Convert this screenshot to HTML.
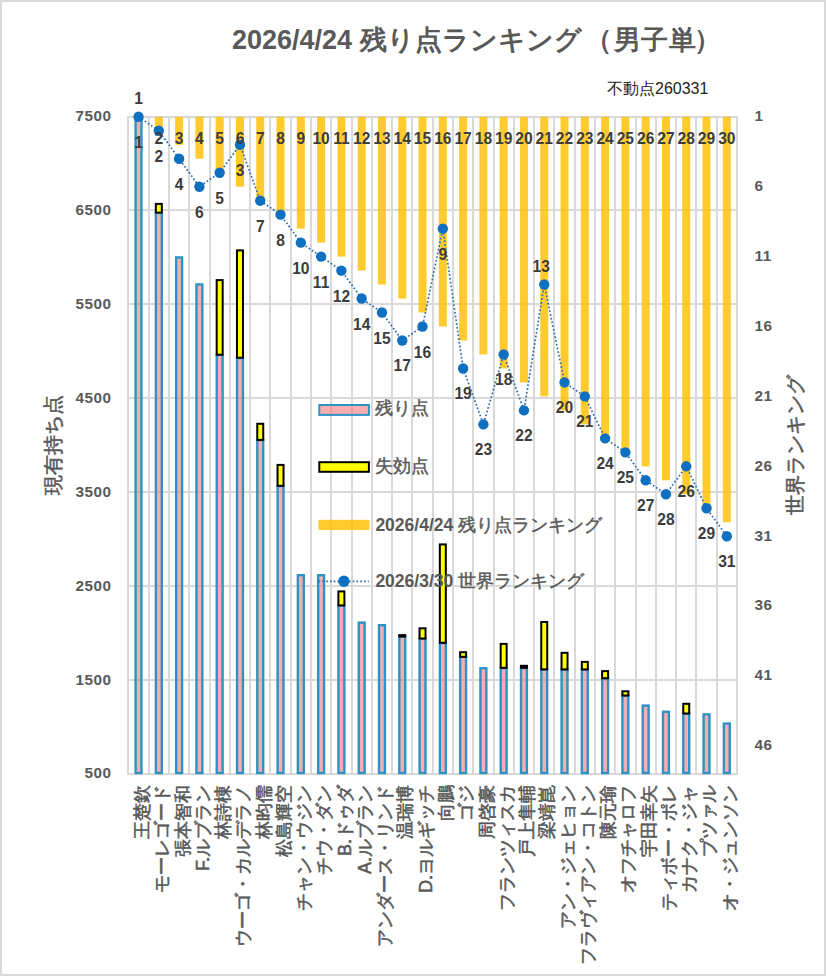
<!DOCTYPE html>
<html><head><meta charset="utf-8"><style>
html,body{margin:0;padding:0;background:#fff;width:826px;height:976px;overflow:hidden}
svg{display:block}
</style></head><body>
<svg width="826" height="976" viewBox="0 0 826 976">
<rect x="1" y="1" width="824" height="974" fill="#fff" stroke="#d9d9d9" stroke-width="2"/>
<line x1="127" y1="117" x2="738" y2="117" stroke="#d9d9d9" stroke-width="2"/>
<line x1="127" y1="210" x2="738" y2="210" stroke="#d9d9d9" stroke-width="2"/>
<line x1="127" y1="304" x2="738" y2="304" stroke="#d9d9d9" stroke-width="2"/>
<line x1="127" y1="398" x2="738" y2="398" stroke="#d9d9d9" stroke-width="2"/>
<line x1="127" y1="492" x2="738" y2="492" stroke="#d9d9d9" stroke-width="2"/>
<line x1="127" y1="586" x2="738" y2="586" stroke="#d9d9d9" stroke-width="2"/>
<line x1="127" y1="680" x2="738" y2="680" stroke="#d9d9d9" stroke-width="2"/>
<line x1="127" y1="774" x2="738" y2="774" stroke="#d9d9d9" stroke-width="2"/>
<line x1="128" y1="116" x2="128" y2="775" stroke="#d9d9d9" stroke-width="2"/>
<line x1="149" y1="116" x2="149" y2="775" stroke="#d9d9d9" stroke-width="2"/>
<line x1="169" y1="116" x2="169" y2="775" stroke="#d9d9d9" stroke-width="2"/>
<line x1="189" y1="116" x2="189" y2="775" stroke="#d9d9d9" stroke-width="2"/>
<line x1="210" y1="116" x2="210" y2="775" stroke="#d9d9d9" stroke-width="2"/>
<line x1="230" y1="116" x2="230" y2="775" stroke="#d9d9d9" stroke-width="2"/>
<line x1="250" y1="116" x2="250" y2="775" stroke="#d9d9d9" stroke-width="2"/>
<line x1="270" y1="116" x2="270" y2="775" stroke="#d9d9d9" stroke-width="2"/>
<line x1="291" y1="116" x2="291" y2="775" stroke="#d9d9d9" stroke-width="2"/>
<line x1="311" y1="116" x2="311" y2="775" stroke="#d9d9d9" stroke-width="2"/>
<line x1="331" y1="116" x2="331" y2="775" stroke="#d9d9d9" stroke-width="2"/>
<line x1="352" y1="116" x2="352" y2="775" stroke="#d9d9d9" stroke-width="2"/>
<line x1="372" y1="116" x2="372" y2="775" stroke="#d9d9d9" stroke-width="2"/>
<line x1="392" y1="116" x2="392" y2="775" stroke="#d9d9d9" stroke-width="2"/>
<line x1="412" y1="116" x2="412" y2="775" stroke="#d9d9d9" stroke-width="2"/>
<line x1="433" y1="116" x2="433" y2="775" stroke="#d9d9d9" stroke-width="2"/>
<line x1="453" y1="116" x2="453" y2="775" stroke="#d9d9d9" stroke-width="2"/>
<line x1="473" y1="116" x2="473" y2="775" stroke="#d9d9d9" stroke-width="2"/>
<line x1="494" y1="116" x2="494" y2="775" stroke="#d9d9d9" stroke-width="2"/>
<line x1="514" y1="116" x2="514" y2="775" stroke="#d9d9d9" stroke-width="2"/>
<line x1="534" y1="116" x2="534" y2="775" stroke="#d9d9d9" stroke-width="2"/>
<line x1="554" y1="116" x2="554" y2="775" stroke="#d9d9d9" stroke-width="2"/>
<line x1="575" y1="116" x2="575" y2="775" stroke="#d9d9d9" stroke-width="2"/>
<line x1="595" y1="116" x2="595" y2="775" stroke="#d9d9d9" stroke-width="2"/>
<line x1="615" y1="116" x2="615" y2="775" stroke="#d9d9d9" stroke-width="2"/>
<line x1="636" y1="116" x2="636" y2="775" stroke="#d9d9d9" stroke-width="2"/>
<line x1="656" y1="116" x2="656" y2="775" stroke="#d9d9d9" stroke-width="2"/>
<line x1="676" y1="116" x2="676" y2="775" stroke="#d9d9d9" stroke-width="2"/>
<line x1="696" y1="116" x2="696" y2="775" stroke="#d9d9d9" stroke-width="2"/>
<line x1="717" y1="116" x2="717" y2="775" stroke="#d9d9d9" stroke-width="2"/>
<line x1="737" y1="116" x2="737" y2="775" stroke="#d9d9d9" stroke-width="2"/>
<rect x="135.59" y="117.40" width="5.9" height="655.60" fill="#f86c74" fill-opacity="0.56" stroke="#2c93c4" stroke-width="2.4"/>
<rect x="155.88" y="212.80" width="5.9" height="560.20" fill="#f86c74" fill-opacity="0.56" stroke="#2c93c4" stroke-width="2.4"/>
<rect x="176.16" y="257.40" width="5.9" height="515.60" fill="#f86c74" fill-opacity="0.56" stroke="#2c93c4" stroke-width="2.4"/>
<rect x="196.45" y="284.40" width="5.9" height="488.60" fill="#f86c74" fill-opacity="0.56" stroke="#2c93c4" stroke-width="2.4"/>
<rect x="216.73" y="354.90" width="5.9" height="418.10" fill="#f86c74" fill-opacity="0.56" stroke="#2c93c4" stroke-width="2.4"/>
<rect x="237.02" y="357.90" width="5.9" height="415.10" fill="#f86c74" fill-opacity="0.56" stroke="#2c93c4" stroke-width="2.4"/>
<rect x="257.30" y="440.10" width="5.9" height="332.90" fill="#f86c74" fill-opacity="0.56" stroke="#2c93c4" stroke-width="2.4"/>
<rect x="277.59" y="486.00" width="5.9" height="287.00" fill="#f86c74" fill-opacity="0.56" stroke="#2c93c4" stroke-width="2.4"/>
<rect x="297.87" y="575.20" width="5.9" height="197.80" fill="#f86c74" fill-opacity="0.56" stroke="#2c93c4" stroke-width="2.4"/>
<rect x="318.16" y="575.20" width="5.9" height="197.80" fill="#f86c74" fill-opacity="0.56" stroke="#2c93c4" stroke-width="2.4"/>
<rect x="338.44" y="605.60" width="5.9" height="167.40" fill="#f86c74" fill-opacity="0.56" stroke="#2c93c4" stroke-width="2.4"/>
<rect x="358.73" y="622.60" width="5.9" height="150.40" fill="#f86c74" fill-opacity="0.56" stroke="#2c93c4" stroke-width="2.4"/>
<rect x="379.01" y="625.20" width="5.9" height="147.80" fill="#f86c74" fill-opacity="0.56" stroke="#2c93c4" stroke-width="2.4"/>
<rect x="399.30" y="636.70" width="5.9" height="136.30" fill="#f86c74" fill-opacity="0.56" stroke="#2c93c4" stroke-width="2.4"/>
<rect x="419.58" y="638.70" width="5.9" height="134.30" fill="#f86c74" fill-opacity="0.56" stroke="#2c93c4" stroke-width="2.4"/>
<rect x="439.87" y="643.00" width="5.9" height="130.00" fill="#f86c74" fill-opacity="0.56" stroke="#2c93c4" stroke-width="2.4"/>
<rect x="460.15" y="657.00" width="5.9" height="116.00" fill="#f86c74" fill-opacity="0.56" stroke="#2c93c4" stroke-width="2.4"/>
<rect x="480.44" y="668.20" width="5.9" height="104.80" fill="#f86c74" fill-opacity="0.56" stroke="#2c93c4" stroke-width="2.4"/>
<rect x="500.72" y="668.00" width="5.9" height="105.00" fill="#f86c74" fill-opacity="0.56" stroke="#2c93c4" stroke-width="2.4"/>
<rect x="521.01" y="668.00" width="5.9" height="105.00" fill="#f86c74" fill-opacity="0.56" stroke="#2c93c4" stroke-width="2.4"/>
<rect x="541.29" y="669.60" width="5.9" height="103.40" fill="#f86c74" fill-opacity="0.56" stroke="#2c93c4" stroke-width="2.4"/>
<rect x="561.58" y="669.60" width="5.9" height="103.40" fill="#f86c74" fill-opacity="0.56" stroke="#2c93c4" stroke-width="2.4"/>
<rect x="581.86" y="669.60" width="5.9" height="103.40" fill="#f86c74" fill-opacity="0.56" stroke="#2c93c4" stroke-width="2.4"/>
<rect x="602.15" y="678.40" width="5.9" height="94.60" fill="#f86c74" fill-opacity="0.56" stroke="#2c93c4" stroke-width="2.4"/>
<rect x="622.43" y="695.70" width="5.9" height="77.30" fill="#f86c74" fill-opacity="0.56" stroke="#2c93c4" stroke-width="2.4"/>
<rect x="642.72" y="705.60" width="5.9" height="67.40" fill="#f86c74" fill-opacity="0.56" stroke="#2c93c4" stroke-width="2.4"/>
<rect x="663.00" y="711.80" width="5.9" height="61.20" fill="#f86c74" fill-opacity="0.56" stroke="#2c93c4" stroke-width="2.4"/>
<rect x="683.29" y="713.70" width="5.9" height="59.30" fill="#f86c74" fill-opacity="0.56" stroke="#2c93c4" stroke-width="2.4"/>
<rect x="703.57" y="714.40" width="5.9" height="58.60" fill="#f86c74" fill-opacity="0.56" stroke="#2c93c4" stroke-width="2.4"/>
<rect x="723.86" y="723.60" width="5.9" height="49.40" fill="#f86c74" fill-opacity="0.56" stroke="#2c93c4" stroke-width="2.4"/>
<rect x="155.83" y="203.90" width="6" height="8.70" fill="#ffff00" stroke="#000" stroke-width="2"/>
<rect x="216.68" y="280.10" width="6" height="74.60" fill="#ffff00" stroke="#000" stroke-width="2"/>
<rect x="236.97" y="250.40" width="6" height="107.30" fill="#ffff00" stroke="#000" stroke-width="2"/>
<rect x="257.25" y="423.80" width="6" height="16.10" fill="#ffff00" stroke="#000" stroke-width="2"/>
<rect x="277.54" y="464.90" width="6" height="20.90" fill="#ffff00" stroke="#000" stroke-width="2"/>
<rect x="338.39" y="591.40" width="6" height="14.00" fill="#ffff00" stroke="#000" stroke-width="2"/>
<rect x="399.25" y="635.10" width="6" height="1.40" fill="#ffff00" stroke="#000" stroke-width="2"/>
<rect x="419.53" y="628.30" width="6" height="10.20" fill="#ffff00" stroke="#000" stroke-width="2"/>
<rect x="439.82" y="544.40" width="6" height="98.40" fill="#ffff00" stroke="#000" stroke-width="2"/>
<rect x="460.10" y="652.20" width="6" height="4.60" fill="#ffff00" stroke="#000" stroke-width="2"/>
<rect x="500.67" y="643.90" width="6" height="23.90" fill="#ffff00" stroke="#000" stroke-width="2"/>
<rect x="520.96" y="665.80" width="6" height="2.00" fill="#ffff00" stroke="#000" stroke-width="2"/>
<rect x="541.24" y="622.00" width="6" height="47.40" fill="#ffff00" stroke="#000" stroke-width="2"/>
<rect x="561.53" y="652.80" width="6" height="16.60" fill="#ffff00" stroke="#000" stroke-width="2"/>
<rect x="581.81" y="661.90" width="6" height="7.50" fill="#ffff00" stroke="#000" stroke-width="2"/>
<rect x="602.10" y="671.10" width="6" height="7.10" fill="#ffff00" stroke="#000" stroke-width="2"/>
<rect x="622.38" y="691.30" width="6" height="4.20" fill="#ffff00" stroke="#000" stroke-width="2"/>
<rect x="683.24" y="703.80" width="6" height="9.70" fill="#ffff00" stroke="#000" stroke-width="2"/>
<rect x="154.83" y="116.80" width="8" height="13.98" fill="#ffc000" fill-opacity="0.82"/>
<rect x="175.11" y="116.80" width="8" height="27.96" fill="#ffc000" fill-opacity="0.82"/>
<rect x="195.40" y="116.80" width="8" height="41.94" fill="#ffc000" fill-opacity="0.82"/>
<rect x="215.68" y="116.80" width="8" height="55.92" fill="#ffc000" fill-opacity="0.82"/>
<rect x="235.97" y="116.80" width="8" height="69.90" fill="#ffc000" fill-opacity="0.82"/>
<rect x="256.25" y="116.80" width="8" height="83.89" fill="#ffc000" fill-opacity="0.82"/>
<rect x="276.54" y="116.80" width="8" height="97.87" fill="#ffc000" fill-opacity="0.82"/>
<rect x="296.82" y="116.80" width="8" height="111.85" fill="#ffc000" fill-opacity="0.82"/>
<rect x="317.11" y="116.80" width="8" height="125.83" fill="#ffc000" fill-opacity="0.82"/>
<rect x="337.39" y="116.80" width="8" height="139.81" fill="#ffc000" fill-opacity="0.82"/>
<rect x="357.68" y="116.80" width="8" height="153.79" fill="#ffc000" fill-opacity="0.82"/>
<rect x="377.96" y="116.80" width="8" height="167.77" fill="#ffc000" fill-opacity="0.82"/>
<rect x="398.25" y="116.80" width="8" height="181.75" fill="#ffc000" fill-opacity="0.82"/>
<rect x="418.53" y="116.80" width="8" height="195.73" fill="#ffc000" fill-opacity="0.82"/>
<rect x="438.82" y="116.80" width="8" height="209.71" fill="#ffc000" fill-opacity="0.82"/>
<rect x="459.10" y="116.80" width="8" height="223.69" fill="#ffc000" fill-opacity="0.82"/>
<rect x="479.39" y="116.80" width="8" height="237.67" fill="#ffc000" fill-opacity="0.82"/>
<rect x="499.67" y="116.80" width="8" height="251.66" fill="#ffc000" fill-opacity="0.82"/>
<rect x="519.96" y="116.80" width="8" height="265.64" fill="#ffc000" fill-opacity="0.82"/>
<rect x="540.24" y="116.80" width="8" height="279.62" fill="#ffc000" fill-opacity="0.82"/>
<rect x="560.53" y="116.80" width="8" height="293.60" fill="#ffc000" fill-opacity="0.82"/>
<rect x="580.81" y="116.80" width="8" height="307.58" fill="#ffc000" fill-opacity="0.82"/>
<rect x="601.10" y="116.80" width="8" height="321.56" fill="#ffc000" fill-opacity="0.82"/>
<rect x="621.38" y="116.80" width="8" height="335.54" fill="#ffc000" fill-opacity="0.82"/>
<rect x="641.67" y="116.80" width="8" height="349.52" fill="#ffc000" fill-opacity="0.82"/>
<rect x="661.95" y="116.80" width="8" height="363.50" fill="#ffc000" fill-opacity="0.82"/>
<rect x="682.24" y="116.80" width="8" height="377.48" fill="#ffc000" fill-opacity="0.82"/>
<rect x="702.52" y="116.80" width="8" height="391.46" fill="#ffc000" fill-opacity="0.82"/>
<rect x="722.81" y="116.80" width="8" height="405.44" fill="#ffc000" fill-opacity="0.82"/>
<polyline points="138.54,116.80 158.83,130.78 179.11,158.74 199.40,186.70 219.68,172.72 239.97,144.76 260.25,200.69 280.54,214.67 300.82,242.63 321.11,256.61 341.39,270.59 361.68,298.55 381.96,312.53 402.25,340.49 422.53,326.51 442.82,228.65 463.10,368.46 483.39,424.38 503.67,354.47 523.96,410.40 544.24,284.57 564.53,382.44 584.81,396.42 605.10,438.36 625.38,452.34 645.67,480.30 665.95,494.28 686.24,466.32 706.52,508.26 726.81,536.23" fill="none" stroke="#2a6db0" stroke-width="1.7" stroke-dasharray="1.7 2.1"/>
<circle cx="138.54" cy="116.80" r="5.2" fill="#0f6fc0"/>
<circle cx="158.83" cy="130.78" r="5.2" fill="#0f6fc0"/>
<circle cx="179.11" cy="158.74" r="5.2" fill="#0f6fc0"/>
<circle cx="199.40" cy="186.70" r="5.2" fill="#0f6fc0"/>
<circle cx="219.68" cy="172.72" r="5.2" fill="#0f6fc0"/>
<circle cx="239.97" cy="144.76" r="5.2" fill="#0f6fc0"/>
<circle cx="260.25" cy="200.69" r="5.2" fill="#0f6fc0"/>
<circle cx="280.54" cy="214.67" r="5.2" fill="#0f6fc0"/>
<circle cx="300.82" cy="242.63" r="5.2" fill="#0f6fc0"/>
<circle cx="321.11" cy="256.61" r="5.2" fill="#0f6fc0"/>
<circle cx="341.39" cy="270.59" r="5.2" fill="#0f6fc0"/>
<circle cx="361.68" cy="298.55" r="5.2" fill="#0f6fc0"/>
<circle cx="381.96" cy="312.53" r="5.2" fill="#0f6fc0"/>
<circle cx="402.25" cy="340.49" r="5.2" fill="#0f6fc0"/>
<circle cx="422.53" cy="326.51" r="5.2" fill="#0f6fc0"/>
<circle cx="442.82" cy="228.65" r="5.2" fill="#0f6fc0"/>
<circle cx="463.10" cy="368.46" r="5.2" fill="#0f6fc0"/>
<circle cx="483.39" cy="424.38" r="5.2" fill="#0f6fc0"/>
<circle cx="503.67" cy="354.47" r="5.2" fill="#0f6fc0"/>
<circle cx="523.96" cy="410.40" r="5.2" fill="#0f6fc0"/>
<circle cx="544.24" cy="284.57" r="5.2" fill="#0f6fc0"/>
<circle cx="564.53" cy="382.44" r="5.2" fill="#0f6fc0"/>
<circle cx="584.81" cy="396.42" r="5.2" fill="#0f6fc0"/>
<circle cx="605.10" cy="438.36" r="5.2" fill="#0f6fc0"/>
<circle cx="625.38" cy="452.34" r="5.2" fill="#0f6fc0"/>
<circle cx="645.67" cy="480.30" r="5.2" fill="#0f6fc0"/>
<circle cx="665.95" cy="494.28" r="5.2" fill="#0f6fc0"/>
<circle cx="686.24" cy="466.32" r="5.2" fill="#0f6fc0"/>
<circle cx="706.52" cy="508.26" r="5.2" fill="#0f6fc0"/>
<circle cx="726.81" cy="536.23" r="5.2" fill="#0f6fc0"/>
<text x="138.54" y="98.50" text-anchor="middle" dominant-baseline="central" style="font-family:'Liberation Sans', sans-serif;font-weight:bold;font-size:15.6px;fill:#3c3c3c">1</text>
<text x="158.83" y="138.80" text-anchor="middle" dominant-baseline="central" style="font-family:'Liberation Sans', sans-serif;font-weight:bold;font-size:15.6px;fill:#3c3c3c">2</text>
<text x="179.11" y="138.80" text-anchor="middle" dominant-baseline="central" style="font-family:'Liberation Sans', sans-serif;font-weight:bold;font-size:15.6px;fill:#3c3c3c">3</text>
<text x="199.40" y="138.80" text-anchor="middle" dominant-baseline="central" style="font-family:'Liberation Sans', sans-serif;font-weight:bold;font-size:15.6px;fill:#3c3c3c">4</text>
<text x="219.68" y="138.80" text-anchor="middle" dominant-baseline="central" style="font-family:'Liberation Sans', sans-serif;font-weight:bold;font-size:15.6px;fill:#3c3c3c">5</text>
<text x="239.97" y="138.80" text-anchor="middle" dominant-baseline="central" style="font-family:'Liberation Sans', sans-serif;font-weight:bold;font-size:15.6px;fill:#3c3c3c">6</text>
<text x="260.25" y="138.80" text-anchor="middle" dominant-baseline="central" style="font-family:'Liberation Sans', sans-serif;font-weight:bold;font-size:15.6px;fill:#3c3c3c">7</text>
<text x="280.54" y="138.80" text-anchor="middle" dominant-baseline="central" style="font-family:'Liberation Sans', sans-serif;font-weight:bold;font-size:15.6px;fill:#3c3c3c">8</text>
<text x="300.82" y="138.80" text-anchor="middle" dominant-baseline="central" style="font-family:'Liberation Sans', sans-serif;font-weight:bold;font-size:15.6px;fill:#3c3c3c">9</text>
<text x="321.11" y="138.80" text-anchor="middle" dominant-baseline="central" style="font-family:'Liberation Sans', sans-serif;font-weight:bold;font-size:15.6px;fill:#3c3c3c">10</text>
<text x="341.39" y="138.80" text-anchor="middle" dominant-baseline="central" style="font-family:'Liberation Sans', sans-serif;font-weight:bold;font-size:15.6px;fill:#3c3c3c">11</text>
<text x="361.68" y="138.80" text-anchor="middle" dominant-baseline="central" style="font-family:'Liberation Sans', sans-serif;font-weight:bold;font-size:15.6px;fill:#3c3c3c">12</text>
<text x="381.96" y="138.80" text-anchor="middle" dominant-baseline="central" style="font-family:'Liberation Sans', sans-serif;font-weight:bold;font-size:15.6px;fill:#3c3c3c">13</text>
<text x="402.25" y="138.80" text-anchor="middle" dominant-baseline="central" style="font-family:'Liberation Sans', sans-serif;font-weight:bold;font-size:15.6px;fill:#3c3c3c">14</text>
<text x="422.53" y="138.80" text-anchor="middle" dominant-baseline="central" style="font-family:'Liberation Sans', sans-serif;font-weight:bold;font-size:15.6px;fill:#3c3c3c">15</text>
<text x="442.82" y="138.80" text-anchor="middle" dominant-baseline="central" style="font-family:'Liberation Sans', sans-serif;font-weight:bold;font-size:15.6px;fill:#3c3c3c">16</text>
<text x="463.10" y="138.80" text-anchor="middle" dominant-baseline="central" style="font-family:'Liberation Sans', sans-serif;font-weight:bold;font-size:15.6px;fill:#3c3c3c">17</text>
<text x="483.39" y="138.80" text-anchor="middle" dominant-baseline="central" style="font-family:'Liberation Sans', sans-serif;font-weight:bold;font-size:15.6px;fill:#3c3c3c">18</text>
<text x="503.67" y="138.80" text-anchor="middle" dominant-baseline="central" style="font-family:'Liberation Sans', sans-serif;font-weight:bold;font-size:15.6px;fill:#3c3c3c">19</text>
<text x="523.96" y="138.80" text-anchor="middle" dominant-baseline="central" style="font-family:'Liberation Sans', sans-serif;font-weight:bold;font-size:15.6px;fill:#3c3c3c">20</text>
<text x="544.24" y="138.80" text-anchor="middle" dominant-baseline="central" style="font-family:'Liberation Sans', sans-serif;font-weight:bold;font-size:15.6px;fill:#3c3c3c">21</text>
<text x="564.53" y="138.80" text-anchor="middle" dominant-baseline="central" style="font-family:'Liberation Sans', sans-serif;font-weight:bold;font-size:15.6px;fill:#3c3c3c">22</text>
<text x="584.81" y="138.80" text-anchor="middle" dominant-baseline="central" style="font-family:'Liberation Sans', sans-serif;font-weight:bold;font-size:15.6px;fill:#3c3c3c">23</text>
<text x="605.10" y="138.80" text-anchor="middle" dominant-baseline="central" style="font-family:'Liberation Sans', sans-serif;font-weight:bold;font-size:15.6px;fill:#3c3c3c">24</text>
<text x="625.38" y="138.80" text-anchor="middle" dominant-baseline="central" style="font-family:'Liberation Sans', sans-serif;font-weight:bold;font-size:15.6px;fill:#3c3c3c">25</text>
<text x="645.67" y="138.80" text-anchor="middle" dominant-baseline="central" style="font-family:'Liberation Sans', sans-serif;font-weight:bold;font-size:15.6px;fill:#3c3c3c">26</text>
<text x="665.95" y="138.80" text-anchor="middle" dominant-baseline="central" style="font-family:'Liberation Sans', sans-serif;font-weight:bold;font-size:15.6px;fill:#3c3c3c">27</text>
<text x="686.24" y="138.80" text-anchor="middle" dominant-baseline="central" style="font-family:'Liberation Sans', sans-serif;font-weight:bold;font-size:15.6px;fill:#3c3c3c">28</text>
<text x="706.52" y="138.80" text-anchor="middle" dominant-baseline="central" style="font-family:'Liberation Sans', sans-serif;font-weight:bold;font-size:15.6px;fill:#3c3c3c">29</text>
<text x="726.81" y="138.80" text-anchor="middle" dominant-baseline="central" style="font-family:'Liberation Sans', sans-serif;font-weight:bold;font-size:15.6px;fill:#3c3c3c">30</text>
<text x="138.54" y="142.30" text-anchor="middle" dominant-baseline="central" style="font-family:'Liberation Sans', sans-serif;font-weight:bold;font-size:15.6px;fill:#3c3c3c">1</text>
<text x="158.83" y="156.28" text-anchor="middle" dominant-baseline="central" style="font-family:'Liberation Sans', sans-serif;font-weight:bold;font-size:15.6px;fill:#3c3c3c">2</text>
<text x="179.11" y="184.24" text-anchor="middle" dominant-baseline="central" style="font-family:'Liberation Sans', sans-serif;font-weight:bold;font-size:15.6px;fill:#3c3c3c">4</text>
<text x="199.40" y="212.20" text-anchor="middle" dominant-baseline="central" style="font-family:'Liberation Sans', sans-serif;font-weight:bold;font-size:15.6px;fill:#3c3c3c">6</text>
<text x="219.68" y="198.22" text-anchor="middle" dominant-baseline="central" style="font-family:'Liberation Sans', sans-serif;font-weight:bold;font-size:15.6px;fill:#3c3c3c">5</text>
<text x="239.97" y="170.26" text-anchor="middle" dominant-baseline="central" style="font-family:'Liberation Sans', sans-serif;font-weight:bold;font-size:15.6px;fill:#3c3c3c">3</text>
<text x="260.25" y="226.19" text-anchor="middle" dominant-baseline="central" style="font-family:'Liberation Sans', sans-serif;font-weight:bold;font-size:15.6px;fill:#3c3c3c">7</text>
<text x="280.54" y="240.17" text-anchor="middle" dominant-baseline="central" style="font-family:'Liberation Sans', sans-serif;font-weight:bold;font-size:15.6px;fill:#3c3c3c">8</text>
<text x="300.82" y="268.13" text-anchor="middle" dominant-baseline="central" style="font-family:'Liberation Sans', sans-serif;font-weight:bold;font-size:15.6px;fill:#3c3c3c">10</text>
<text x="321.11" y="282.11" text-anchor="middle" dominant-baseline="central" style="font-family:'Liberation Sans', sans-serif;font-weight:bold;font-size:15.6px;fill:#3c3c3c">11</text>
<text x="341.39" y="296.09" text-anchor="middle" dominant-baseline="central" style="font-family:'Liberation Sans', sans-serif;font-weight:bold;font-size:15.6px;fill:#3c3c3c">12</text>
<text x="361.68" y="324.05" text-anchor="middle" dominant-baseline="central" style="font-family:'Liberation Sans', sans-serif;font-weight:bold;font-size:15.6px;fill:#3c3c3c">14</text>
<text x="381.96" y="338.03" text-anchor="middle" dominant-baseline="central" style="font-family:'Liberation Sans', sans-serif;font-weight:bold;font-size:15.6px;fill:#3c3c3c">15</text>
<text x="402.25" y="365.99" text-anchor="middle" dominant-baseline="central" style="font-family:'Liberation Sans', sans-serif;font-weight:bold;font-size:15.6px;fill:#3c3c3c">17</text>
<text x="422.53" y="352.01" text-anchor="middle" dominant-baseline="central" style="font-family:'Liberation Sans', sans-serif;font-weight:bold;font-size:15.6px;fill:#3c3c3c">16</text>
<text x="442.82" y="254.15" text-anchor="middle" dominant-baseline="central" style="font-family:'Liberation Sans', sans-serif;font-weight:bold;font-size:15.6px;fill:#3c3c3c">9</text>
<text x="463.10" y="393.96" text-anchor="middle" dominant-baseline="central" style="font-family:'Liberation Sans', sans-serif;font-weight:bold;font-size:15.6px;fill:#3c3c3c">19</text>
<text x="483.39" y="449.88" text-anchor="middle" dominant-baseline="central" style="font-family:'Liberation Sans', sans-serif;font-weight:bold;font-size:15.6px;fill:#3c3c3c">23</text>
<text x="503.67" y="379.97" text-anchor="middle" dominant-baseline="central" style="font-family:'Liberation Sans', sans-serif;font-weight:bold;font-size:15.6px;fill:#3c3c3c">18</text>
<text x="523.96" y="435.90" text-anchor="middle" dominant-baseline="central" style="font-family:'Liberation Sans', sans-serif;font-weight:bold;font-size:15.6px;fill:#3c3c3c">22</text>
<text x="541.24" y="266.87" text-anchor="middle" dominant-baseline="central" style="font-family:'Liberation Sans', sans-serif;font-weight:bold;font-size:15.6px;fill:#3c3c3c">13</text>
<text x="564.53" y="407.94" text-anchor="middle" dominant-baseline="central" style="font-family:'Liberation Sans', sans-serif;font-weight:bold;font-size:15.6px;fill:#3c3c3c">20</text>
<text x="584.81" y="421.92" text-anchor="middle" dominant-baseline="central" style="font-family:'Liberation Sans', sans-serif;font-weight:bold;font-size:15.6px;fill:#3c3c3c">21</text>
<text x="605.10" y="463.86" text-anchor="middle" dominant-baseline="central" style="font-family:'Liberation Sans', sans-serif;font-weight:bold;font-size:15.6px;fill:#3c3c3c">24</text>
<text x="625.38" y="477.84" text-anchor="middle" dominant-baseline="central" style="font-family:'Liberation Sans', sans-serif;font-weight:bold;font-size:15.6px;fill:#3c3c3c">25</text>
<text x="645.67" y="505.80" text-anchor="middle" dominant-baseline="central" style="font-family:'Liberation Sans', sans-serif;font-weight:bold;font-size:15.6px;fill:#3c3c3c">27</text>
<text x="665.95" y="519.78" text-anchor="middle" dominant-baseline="central" style="font-family:'Liberation Sans', sans-serif;font-weight:bold;font-size:15.6px;fill:#3c3c3c">28</text>
<text x="686.24" y="491.82" text-anchor="middle" dominant-baseline="central" style="font-family:'Liberation Sans', sans-serif;font-weight:bold;font-size:15.6px;fill:#3c3c3c">26</text>
<text x="706.52" y="533.76" text-anchor="middle" dominant-baseline="central" style="font-family:'Liberation Sans', sans-serif;font-weight:bold;font-size:15.6px;fill:#3c3c3c">29</text>
<text x="726.81" y="561.73" text-anchor="middle" dominant-baseline="central" style="font-family:'Liberation Sans', sans-serif;font-weight:bold;font-size:15.6px;fill:#3c3c3c">31</text>
<text x="111.50" y="115.80" text-anchor="end" dominant-baseline="central" style="font-family:'Liberation Sans', sans-serif;font-weight:bold;font-size:15.3px;letter-spacing:0.5px;fill:#595959">7500</text>
<text x="111.50" y="209.67" text-anchor="end" dominant-baseline="central" style="font-family:'Liberation Sans', sans-serif;font-weight:bold;font-size:15.3px;letter-spacing:0.5px;fill:#595959">6500</text>
<text x="111.50" y="303.54" text-anchor="end" dominant-baseline="central" style="font-family:'Liberation Sans', sans-serif;font-weight:bold;font-size:15.3px;letter-spacing:0.5px;fill:#595959">5500</text>
<text x="111.50" y="397.41" text-anchor="end" dominant-baseline="central" style="font-family:'Liberation Sans', sans-serif;font-weight:bold;font-size:15.3px;letter-spacing:0.5px;fill:#595959">4500</text>
<text x="111.50" y="491.29" text-anchor="end" dominant-baseline="central" style="font-family:'Liberation Sans', sans-serif;font-weight:bold;font-size:15.3px;letter-spacing:0.5px;fill:#595959">3500</text>
<text x="111.50" y="585.16" text-anchor="end" dominant-baseline="central" style="font-family:'Liberation Sans', sans-serif;font-weight:bold;font-size:15.3px;letter-spacing:0.5px;fill:#595959">2500</text>
<text x="111.50" y="679.03" text-anchor="end" dominant-baseline="central" style="font-family:'Liberation Sans', sans-serif;font-weight:bold;font-size:15.3px;letter-spacing:0.5px;fill:#595959">1500</text>
<text x="111.50" y="772.90" text-anchor="end" dominant-baseline="central" style="font-family:'Liberation Sans', sans-serif;font-weight:bold;font-size:15.3px;letter-spacing:0.5px;fill:#595959">500</text>
<text x="754.50" y="115.60" text-anchor="start" dominant-baseline="central" style="font-family:'Liberation Sans', sans-serif;font-weight:bold;font-size:15.3px;letter-spacing:0.5px;fill:#595959">1</text>
<text x="754.50" y="185.50" text-anchor="start" dominant-baseline="central" style="font-family:'Liberation Sans', sans-serif;font-weight:bold;font-size:15.3px;letter-spacing:0.5px;fill:#595959">6</text>
<text x="754.50" y="255.41" text-anchor="start" dominant-baseline="central" style="font-family:'Liberation Sans', sans-serif;font-weight:bold;font-size:15.3px;letter-spacing:0.5px;fill:#595959">11</text>
<text x="754.50" y="325.31" text-anchor="start" dominant-baseline="central" style="font-family:'Liberation Sans', sans-serif;font-weight:bold;font-size:15.3px;letter-spacing:0.5px;fill:#595959">16</text>
<text x="754.50" y="395.22" text-anchor="start" dominant-baseline="central" style="font-family:'Liberation Sans', sans-serif;font-weight:bold;font-size:15.3px;letter-spacing:0.5px;fill:#595959">21</text>
<text x="754.50" y="465.12" text-anchor="start" dominant-baseline="central" style="font-family:'Liberation Sans', sans-serif;font-weight:bold;font-size:15.3px;letter-spacing:0.5px;fill:#595959">26</text>
<text x="754.50" y="535.03" text-anchor="start" dominant-baseline="central" style="font-family:'Liberation Sans', sans-serif;font-weight:bold;font-size:15.3px;letter-spacing:0.5px;fill:#595959">31</text>
<text x="754.50" y="604.93" text-anchor="start" dominant-baseline="central" style="font-family:'Liberation Sans', sans-serif;font-weight:bold;font-size:15.3px;letter-spacing:0.5px;fill:#595959">36</text>
<text x="754.50" y="674.83" text-anchor="start" dominant-baseline="central" style="font-family:'Liberation Sans', sans-serif;font-weight:bold;font-size:15.3px;letter-spacing:0.5px;fill:#595959">41</text>
<text x="754.50" y="744.74" text-anchor="start" dominant-baseline="central" style="font-family:'Liberation Sans', sans-serif;font-weight:bold;font-size:15.3px;letter-spacing:0.5px;fill:#595959">46</text>
<text transform="translate(142.14,785) rotate(-90)" text-anchor="end" dominant-baseline="central" style="font-family:'Liberation Sans', sans-serif;font-size:18px;fill:#595959;stroke:#595959;stroke-width:0.55px">王楚欽</text>
<text transform="translate(162.40,785) rotate(-90)" text-anchor="end" dominant-baseline="central" style="font-family:'Liberation Sans', sans-serif;font-size:18px;fill:#595959;stroke:#595959;stroke-width:0.55px">モーレゴード</text>
<text transform="translate(182.66,785) rotate(-90)" text-anchor="end" dominant-baseline="central" style="font-family:'Liberation Sans', sans-serif;font-size:18px;fill:#595959;stroke:#595959;stroke-width:0.55px">張本智和</text>
<text transform="translate(202.91,785) rotate(-90)" text-anchor="end" dominant-baseline="central" style="font-family:'Liberation Sans', sans-serif;font-size:18px;fill:#595959;stroke:#595959;stroke-width:0.55px">F.ルブラン</text>
<text transform="translate(223.17,785) rotate(-90)" text-anchor="end" dominant-baseline="central" style="font-family:'Liberation Sans', sans-serif;font-size:18px;fill:#595959;stroke:#595959;stroke-width:0.55px">林詩棟</text>
<text transform="translate(243.43,785) rotate(-90)" text-anchor="end" dominant-baseline="central" style="font-family:'Liberation Sans', sans-serif;font-size:18px;fill:#595959;stroke:#595959;stroke-width:0.55px">ウーゴ・カルデラノ</text>
<text transform="translate(263.69,785) rotate(-90)" text-anchor="end" dominant-baseline="central" style="font-family:'Liberation Sans', sans-serif;font-size:18px;fill:#595959;stroke:#595959;stroke-width:0.55px">林昀儒</text>
<text transform="translate(283.94,785) rotate(-90)" text-anchor="end" dominant-baseline="central" style="font-family:'Liberation Sans', sans-serif;font-size:18px;fill:#595959;stroke:#595959;stroke-width:0.55px">松島輝空</text>
<text transform="translate(304.20,785) rotate(-90)" text-anchor="end" dominant-baseline="central" style="font-family:'Liberation Sans', sans-serif;font-size:18px;fill:#595959;stroke:#595959;stroke-width:0.55px">チャン・ウジン</text>
<text transform="translate(324.46,785) rotate(-90)" text-anchor="end" dominant-baseline="central" style="font-family:'Liberation Sans', sans-serif;font-size:18px;fill:#595959;stroke:#595959;stroke-width:0.55px">チウ・ダン</text>
<text transform="translate(344.72,785) rotate(-90)" text-anchor="end" dominant-baseline="central" style="font-family:'Liberation Sans', sans-serif;font-size:18px;fill:#595959;stroke:#595959;stroke-width:0.55px">B.ドゥダ</text>
<text transform="translate(364.97,785) rotate(-90)" text-anchor="end" dominant-baseline="central" style="font-family:'Liberation Sans', sans-serif;font-size:18px;fill:#595959;stroke:#595959;stroke-width:0.55px">A.ルブラン</text>
<text transform="translate(385.23,785) rotate(-90)" text-anchor="end" dominant-baseline="central" style="font-family:'Liberation Sans', sans-serif;font-size:18px;fill:#595959;stroke:#595959;stroke-width:0.55px">アンダース・リンド</text>
<text transform="translate(405.49,785) rotate(-90)" text-anchor="end" dominant-baseline="central" style="font-family:'Liberation Sans', sans-serif;font-size:18px;fill:#595959;stroke:#595959;stroke-width:0.55px">温瑞博</text>
<text transform="translate(425.75,785) rotate(-90)" text-anchor="end" dominant-baseline="central" style="font-family:'Liberation Sans', sans-serif;font-size:18px;fill:#595959;stroke:#595959;stroke-width:0.55px">D.ヨルギッチ</text>
<text transform="translate(446.00,785) rotate(-90)" text-anchor="end" dominant-baseline="central" style="font-family:'Liberation Sans', sans-serif;font-size:18px;fill:#595959;stroke:#595959;stroke-width:0.55px">向鵬</text>
<text transform="translate(466.26,785) rotate(-90)" text-anchor="end" dominant-baseline="central" style="font-family:'Liberation Sans', sans-serif;font-size:18px;fill:#595959;stroke:#595959;stroke-width:0.55px">ゴジ</text>
<text transform="translate(486.52,785) rotate(-90)" text-anchor="end" dominant-baseline="central" style="font-family:'Liberation Sans', sans-serif;font-size:18px;fill:#595959;stroke:#595959;stroke-width:0.55px">周啓豪</text>
<text transform="translate(506.78,785) rotate(-90)" text-anchor="end" dominant-baseline="central" style="font-family:'Liberation Sans', sans-serif;font-size:18px;fill:#595959;stroke:#595959;stroke-width:0.55px">フランツィスカ</text>
<text transform="translate(527.03,785) rotate(-90)" text-anchor="end" dominant-baseline="central" style="font-family:'Liberation Sans', sans-serif;font-size:18px;fill:#595959;stroke:#595959;stroke-width:0.55px">戸上隼輔</text>
<text transform="translate(547.29,785) rotate(-90)" text-anchor="end" dominant-baseline="central" style="font-family:'Liberation Sans', sans-serif;font-size:18px;fill:#595959;stroke:#595959;stroke-width:0.55px">梁靖崑</text>
<text transform="translate(567.55,785) rotate(-90)" text-anchor="end" dominant-baseline="central" style="font-family:'Liberation Sans', sans-serif;font-size:18px;fill:#595959;stroke:#595959;stroke-width:0.55px">アン・ジェヒョン</text>
<text transform="translate(587.81,785) rotate(-90)" text-anchor="end" dominant-baseline="central" style="font-family:'Liberation Sans', sans-serif;font-size:18px;fill:#595959;stroke:#595959;stroke-width:0.55px">フラヴィアン・コトン</text>
<text transform="translate(608.06,785) rotate(-90)" text-anchor="end" dominant-baseline="central" style="font-family:'Liberation Sans', sans-serif;font-size:18px;fill:#595959;stroke:#595959;stroke-width:0.55px">陳元瑜</text>
<text transform="translate(628.32,785) rotate(-90)" text-anchor="end" dominant-baseline="central" style="font-family:'Liberation Sans', sans-serif;font-size:18px;fill:#595959;stroke:#595959;stroke-width:0.55px">オフチャロフ</text>
<text transform="translate(648.58,785) rotate(-90)" text-anchor="end" dominant-baseline="central" style="font-family:'Liberation Sans', sans-serif;font-size:18px;fill:#595959;stroke:#595959;stroke-width:0.55px">宇田幸矢</text>
<text transform="translate(668.84,785) rotate(-90)" text-anchor="end" dominant-baseline="central" style="font-family:'Liberation Sans', sans-serif;font-size:18px;fill:#595959;stroke:#595959;stroke-width:0.55px">ティボー・ポレ</text>
<text transform="translate(689.09,785) rotate(-90)" text-anchor="end" dominant-baseline="central" style="font-family:'Liberation Sans', sans-serif;font-size:18px;fill:#595959;stroke:#595959;stroke-width:0.55px">カナク・ジャ</text>
<text transform="translate(709.35,785) rotate(-90)" text-anchor="end" dominant-baseline="central" style="font-family:'Liberation Sans', sans-serif;font-size:18px;fill:#595959;stroke:#595959;stroke-width:0.55px">プツァル</text>
<text transform="translate(729.61,785) rotate(-90)" text-anchor="end" dominant-baseline="central" style="font-family:'Liberation Sans', sans-serif;font-size:18px;fill:#595959;stroke:#595959;stroke-width:0.55px">オ・ジュンソン</text>
<text transform="translate(52.5,444.6) rotate(-90)" text-anchor="middle" dominant-baseline="central" style="font-family:'Liberation Sans', sans-serif;font-size:20px;fill:#595959;stroke:#595959;stroke-width:0.55px">現有持ち点</text>
<text transform="translate(795,445.3) rotate(-90)" text-anchor="middle" dominant-baseline="central" style="font-family:'Liberation Sans', sans-serif;font-size:20px;fill:#595959;stroke:#595959;stroke-width:0.55px">世界ランキング</text>
<text x="232" y="49" style="font-family:'Liberation Sans', sans-serif;font-weight:bold;font-size:27px;fill:#595959">2026/4/24 残り点ランキング<tspan dx="3">（</tspan><tspan dx="2" style="letter-spacing:0.7px">男子単</tspan><tspan dx="-3">）</tspan></text>
<text x="607" y="93.6" style="font-family:'Liberation Sans', sans-serif;font-size:16px;fill:#222">不動点260331</text>
<rect x="319.3" y="405" width="49.6" height="9.9" fill="#f86c74" fill-opacity="0.56" stroke="#2c93c4" stroke-width="2"/>
<text x="375.40" y="407.80" text-anchor="start" dominant-baseline="central" style="font-family:'Liberation Sans', sans-serif;font-size:17.5px;fill:#595959"><tspan style="font-weight:normal;stroke:#595959;stroke-width:0.45px">残り点</tspan></text>
<rect x="319.3" y="462.2" width="49.6" height="9.6" fill="#ffff00" stroke="#000" stroke-width="2"/>
<text x="375.40" y="465.50" text-anchor="start" dominant-baseline="central" style="font-family:'Liberation Sans', sans-serif;font-size:17.5px;fill:#595959"><tspan style="font-weight:normal;stroke:#595959;stroke-width:0.45px">失効点</tspan></text>
<rect x="318.5" y="519.8" width="51" height="10.2" fill="#ffc000" fill-opacity="0.82"/>
<text x="375.40" y="524.50" text-anchor="start" dominant-baseline="central" style="font-family:'Liberation Sans', sans-serif;font-size:17.5px;fill:#595959"><tspan style="font-weight:bold">2026/4/24 </tspan><tspan style="font-weight:normal;stroke:#595959;stroke-width:0.45px">残り点ランキング</tspan></text>
<line x1="318.5" y1="581.3" x2="368.8" y2="581.3" stroke="#2a6db0" stroke-width="1.7" stroke-dasharray="1.7 2.1"/>
<circle cx="343.9" cy="581.2" r="5.7" fill="#0f6fc0"/>
<text x="375.40" y="581.10" text-anchor="start" dominant-baseline="central" style="font-family:'Liberation Sans', sans-serif;font-size:17.5px;fill:#595959"><tspan style="font-weight:bold">2026/3/30 </tspan><tspan style="font-weight:normal;stroke:#595959;stroke-width:0.45px">世界ランキング</tspan></text>
</svg>
</body></html>
